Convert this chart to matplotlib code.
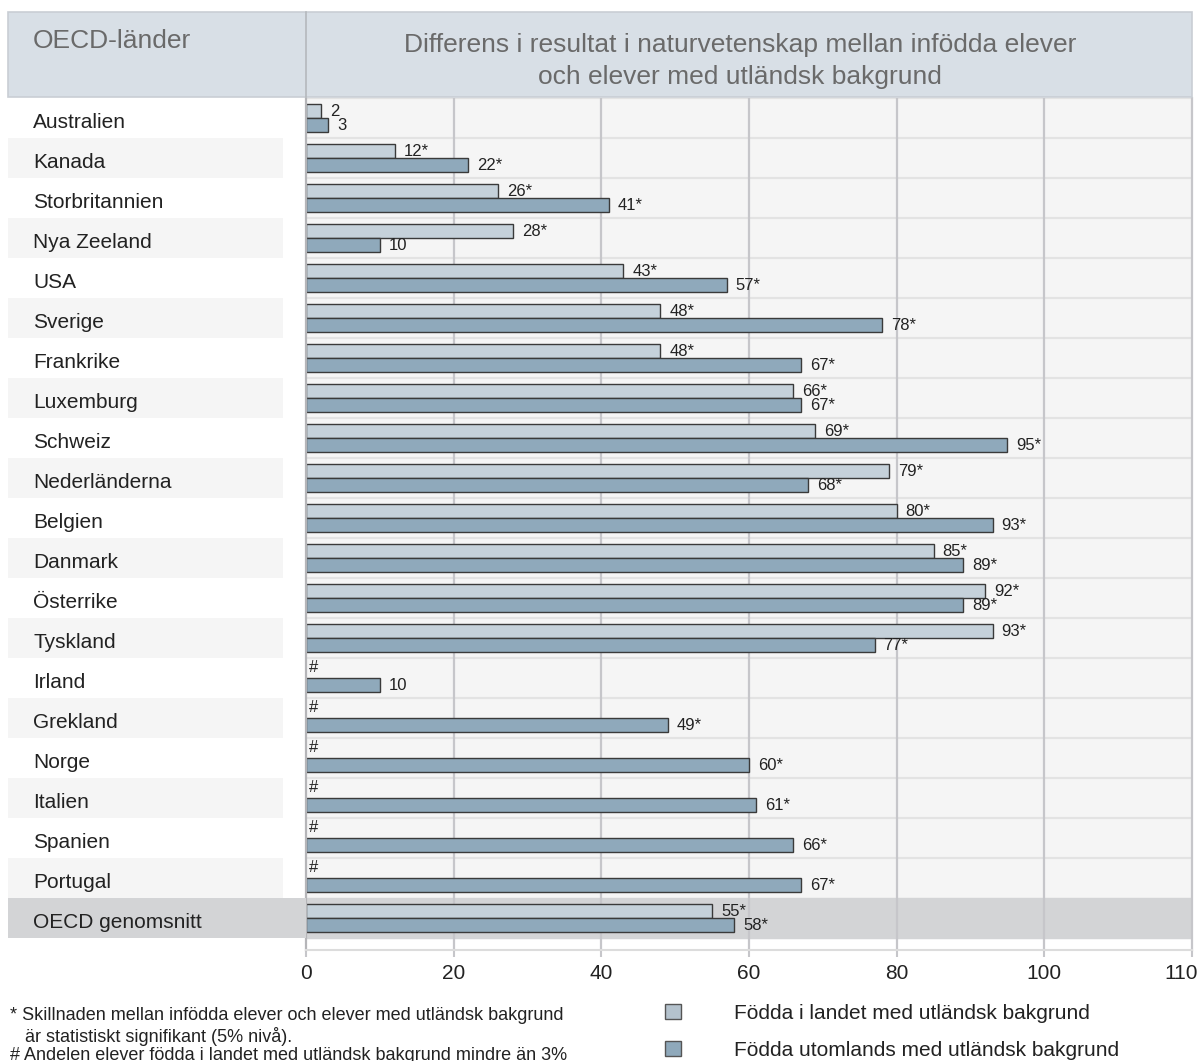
import matplotlib
matplotlib.use('Agg')
import matplotlib.pyplot as plt
from matplotlib.patches import Rectangle, Patch
from matplotlib.transforms import ScaledTranslation
import numpy as np

plt.rcParams.update({
    'font.family': ['Liberation Sans', 'DejaVu Sans'],
})

# Data: score difference in science, native students vs. students with foreign background
countries = [
    'Australien', 'Kanada', 'Storbritannien', 'Nya Zeeland', 'USA', 'Sverige',
    'Frankrike', 'Luxemburg', 'Schweiz', 'Nederländerna', 'Belgien', 'Danmark',
    'Österrike', 'Tyskland', 'Irland', 'Grekland', 'Norge', 'Italien',
    'Spanien', 'Portugal', 'OECD genomsnitt',
]
# Born in the country with foreign background (None = share below 3%)
born_in = [2, 12, 26, 28, 43, 48, 48, 66, 69, 79, 80, 85, 92, 93,
           None, None, None, None, None, None, 55]
born_in_sig = [False, True, True, True, True, True, True, True, True, True,
               True, True, True, True, False, False, False, False, False, False, True]
# Born abroad with foreign background
born_abroad = [3, 22, 41, 10, 57, 78, 67, 67, 95, 68, 93, 89, 89, 77,
               10, 49, 60, 61, 66, 67, 58]
born_abroad_sig = [False, True, True, False, True, True, True, True, True, True,
                   True, True, True, True, False, True, True, True, True, True, True]

tick_values = [0, 20, 40, 60, 80, 100, 120]
tick_labels = ['0', '20', '40', '60', '80', '100', '110']

LIGHT = '#c5d1da'
DARK = '#8fa9bb'
EDGE = '#3a3a3a'
TEXT = '#222222'

W, H = 1200, 1061
fig = plt.figure(figsize=(W / 100, H / 100), dpi=100)
fig.patch.set_facecolor('white')


def fx(px):
    return px / W


def fy(py):
    return 1 - py / H


n = len(countries)
y = np.arange(n)
ylim = (n - 0.5 + 0.3, -0.5)

# main bar area
ax = fig.add_axes([fx(306), fy(950), fx(1192) - fx(306), fy(98) - fy(950)])
ax.set_facecolor('white')
ax.set_xlim(0, 120)
ax.set_ylim(*ylim)

ax.axhspan(-0.5, n - 0.5, color='#f5f5f5', zorder=0)
ax.axhspan(n - 1.5, n - 0.5, color='#d3d4d6', zorder=0.5)
for b in np.arange(-0.5, n - 1.5, 1.0):
    ax.axhline(b, color='#e3e3e3', lw=1.6, zorder=0.6)

ax.set_xticks(tick_values)
ax.set_xticklabels(tick_labels)
ax.set_yticks([])
ax.tick_params(axis='x', length=5, width=1.5, color='#c6c6ca', pad=5,
               labelsize=15, labelcolor=TEXT)
last = ax.get_xticklabels()[-1]
last.set_transform(last.get_transform() + ScaledTranslation(-0.11, 0, fig.dpi_scale_trans))
for xv in tick_values[1:-1]:
    ax.axvline(xv, color='#c6c6ca', lw=1.6, zorder=0.8)

ax.spines['top'].set_visible(False)
ax.spines['left'].set_color('#b5b5b8')
ax.spines['left'].set_linewidth(1.6)
ax.spines['right'].set_color('#c6c6ca')
ax.spines['right'].set_linewidth(1.6)
ax.spines['bottom'].set_color('#dcdcdc')
ax.spines['bottom'].set_linewidth(1.5)

bh = 0.35
off = 0.175
for i in range(n):
    v1 = born_in[i]
    v2 = born_abroad[i]
    if v1 is not None:
        ax.barh(y[i] - off, v1, height=bh, color=LIGHT, edgecolor=EDGE,
                linewidth=1, zorder=2)
        ax.annotate(f'{v1}*' if born_in_sig[i] else f'{v1}', (v1, y[i] - off),
                    xytext=(6.5, -0.5), textcoords='offset points',
                    va='center', ha='left', fontsize=12, color=TEXT)
    else:
        ax.annotate('#', (0, y[i] - off - 0.08), xytext=(2, 0),
                    textcoords='offset points', va='center', ha='left',
                    fontsize=12, color=TEXT)
    ax.barh(y[i] + off, v2, height=bh, color=DARK, edgecolor=EDGE,
            linewidth=1, zorder=2)
    ax.annotate(f'{v2}*' if born_abroad_sig[i] else f'{v2}', (v2, y[i] + off),
                xytext=(6.5, -0.5), textcoords='offset points',
                va='center', ha='left', fontsize=12, color=TEXT)

# country label column
lab = fig.add_axes([fx(8), fy(950), fx(306) - fx(8), fy(98) - fy(950)])
lab.set_xlim(0, 298)
lab.set_ylim(*ylim)
lab.axis('off')
for i in range(n - 1):
    if i % 2 == 1:
        lab.add_patch(Rectangle((0, i - 0.5), 275, 1, color='#f5f5f5', lw=0))
lab.add_patch(Rectangle((0, n - 1.5), 298, 1, color='#d3d4d6', lw=0))
for i, name in enumerate(countries):
    lab.text(25, y[i] + 0.12, name, va='center', ha='left', fontsize=15, color=TEXT)

# header
fig.patches.append(Rectangle((fx(8), fy(97)), fx(1192) - fx(8), fy(12) - fy(97),
                             transform=fig.transFigure, facecolor='#d8dfe6',
                             edgecolor='#c9ced4', lw=1.2, zorder=0))
fig.lines.append(plt.Line2D([fx(306), fx(306)], [fy(97), fy(12)],
                            transform=fig.transFigure, color='#b5b8bc', lw=1.2))
fig.text(fx(33), fy(41), 'OECD-länder', fontsize=19, color='#6a6a6a',
         va='center', ha='left')
fig.text(fx(740), fy(61),
         'Differens i resultat i naturvetenskap mellan infödda elever\n'
         'och elever med utländsk bakgrund',
         fontsize=19, color='#6a6a6a', va='center', ha='center', linespacing=1.45)

# footnotes
fig.text(fx(10), fy(1016), '* Skillnaden mellan infödda elever och elever med utländsk bakgrund',
         fontsize=13, color=TEXT, va='center', ha='left')
fig.text(fx(10), fy(1036), '   är statistiskt signifikant (5% nivå).',
         fontsize=13, color=TEXT, va='center', ha='left')
fig.text(fx(10), fy(1056), '# Andelen elever födda i landet med utländsk bakgrund mindre än 3%',
         fontsize=13, color=TEXT, va='center', ha='left')

# legend
handles = [
    Patch(facecolor='#b4c2cd', edgecolor='#555555', lw=1),
    Patch(facecolor=DARK, edgecolor='#555555', lw=1),
]
fig.legend(handles, ['Födda i landet med utländsk bakgrund',
                     'Födda utomlands med utländsk bakgrund'],
           loc='upper left', bbox_to_anchor=(fx(665), fy(1004)),
           frameon=False, fontsize=15, handlelength=0.75, handleheight=0.75,
           handletextpad=2.55, labelspacing=0.85, borderpad=0, borderaxespad=0,
           labelcolor=TEXT)

fig.savefig('out.png', dpi=100, facecolor='white')
